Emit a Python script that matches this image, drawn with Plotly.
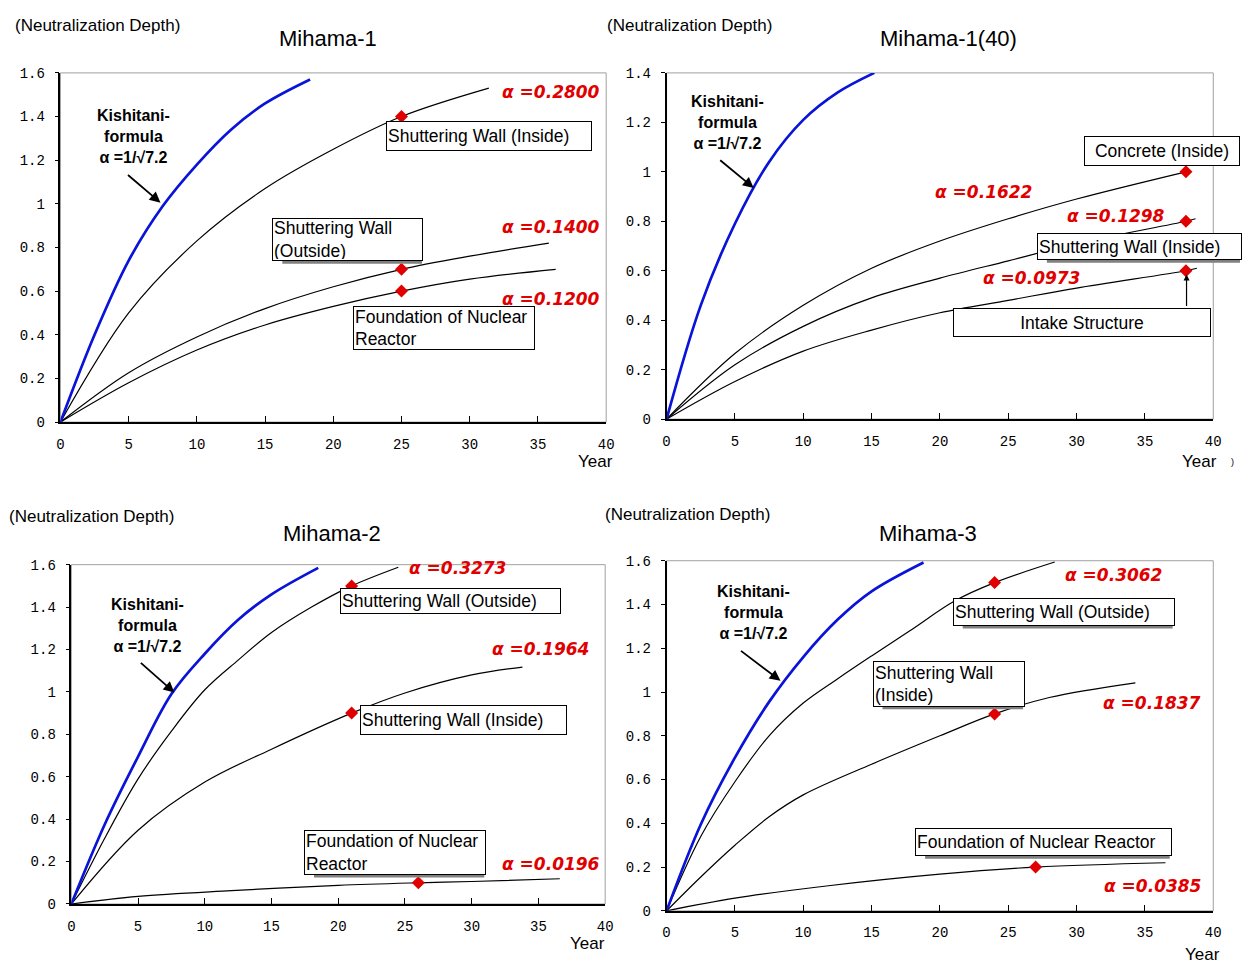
import plotly.graph_objects as go

PAGE_W, PAGE_H = 1250, 972
OFF = 0
W, H = PAGE_W - 2 * OFF, PAGE_H - 2 * OFF

# ---------------- DATA ----------------
panel_titles = ["Mihama-1", "Mihama-1(40)", "Mihama-2", "Mihama-3"]
y_max = [1.6, 1.4, 1.6, 1.6]
x_ticks = [0, 5, 10, 15, 20, 25, 30, 35, 40]
y_ticks_16 = [0, 0.2, 0.4, 0.6, 0.8, 1.0, 1.2, 1.4, 1.6]
y_ticks_14 = [0, 0.2, 0.4, 0.6, 0.8, 1.0, 1.2, 1.4]

# Mihama-1
m1_kish_t = [0, 2.5, 5, 7.5, 10, 12.5, 15, 18.3]
m1_kish_y = [0, 0.40, 0.74, 0.99, 1.18, 1.34, 1.46, 1.57]
m1_a2800_t = [0, 5, 10, 15, 20, 25, 31.4]
m1_a2800_y = [0, 0.50, 0.83, 1.07, 1.25, 1.40, 1.53]
m1_a1400_t = [0, 5, 10, 15, 20, 25, 30, 35.8]
m1_a1400_y = [0, 0.226, 0.39, 0.52, 0.62, 0.70, 0.76, 0.82]
m1_a1200_t = [0, 5, 10, 15, 20, 25, 30, 36.3]
m1_a1200_y = [0, 0.18, 0.33, 0.445, 0.53, 0.60, 0.655, 0.70]
m1_mark_t = [25, 25, 25]
m1_mark_y = [1.4, 0.7, 0.6]

# Mihama-1(40)
m140_kish_t = [0, 2.5, 5, 7.5, 10, 12.5, 15.2]
m140_kish_y = [0, 0.46, 0.79, 1.04, 1.21, 1.32, 1.40]
m140_a1622_t = [0, 5, 10, 15, 20, 25, 30, 38]
m140_a1622_y = [0, 0.265, 0.46, 0.61, 0.72, 0.81, 0.89, 1.00]
m140_a1298_t = [0, 5, 10, 15, 20, 25, 30, 38, 38.7]
m140_a1298_y = [0, 0.22, 0.375, 0.49, 0.57, 0.64, 0.71, 0.80, 0.81]
m140_a0973_t = [0, 5, 10, 15, 20, 25, 30, 38, 38.8]
m140_a0973_y = [0, 0.152, 0.275, 0.36, 0.43, 0.48, 0.53, 0.60, 0.61]
m140_mark_t = [38, 38, 38]
m140_mark_y = [1.0, 0.8, 0.6]

# Mihama-2
m2_kish_t = [0, 2.5, 5, 7.5, 10, 12.5, 15, 18.5]
m2_kish_y = [0, 0.375, 0.695, 0.99, 1.18, 1.34, 1.46, 1.585]
m2_a3273_t = [0, 2.5, 5, 7.5, 10, 12.5, 15, 18, 21, 24.5]
m2_a3273_y = [0, 0.31, 0.59, 0.815, 1.01, 1.15, 1.28, 1.40, 1.50, 1.588]
m2_a1964_t = [0, 5, 10, 15, 21, 25, 30, 33.8]
m2_a1964_y = [0, 0.348, 0.575, 0.73, 0.90, 0.995, 1.08, 1.117]
m2_a0196_t = [0, 5, 12, 20, 26, 30, 36.6]
m2_a0196_y = [0, 0.036, 0.063, 0.088, 0.10, 0.106, 0.119]
m2_mark_t = [21, 21, 26]
m2_mark_y = [1.5, 0.9, 0.1]

# Mihama-3
m3_kish_t = [0, 2.5, 5, 7.5, 10, 12.5, 15, 18.8]
m3_kish_y = [0, 0.395, 0.70, 0.955, 1.16, 1.33, 1.46, 1.592]
m3_a3062_t = [0, 2.5, 5, 7.5, 10, 12.5, 15, 17.8, 21.1, 24, 28.4]
m3_a3062_y = [0, 0.34, 0.59, 0.80, 0.95, 1.06, 1.165, 1.28, 1.417, 1.50, 1.594]
m3_a1837_t = [0, 2.5, 5, 7.5, 10, 15, 20, 24, 28, 34.3]
m3_a1837_y = [0, 0.155, 0.30, 0.43, 0.53, 0.67, 0.80, 0.90, 0.975, 1.042]
m3_a0385_t = [0, 5, 12, 20, 27, 36.5]
m3_a0385_y = [0, 0.058, 0.116, 0.168, 0.20, 0.22]
m3_mark_t = [24, 24, 27]
m3_mark_y = [1.5, 0.9, 0.2]

alpha_labels_m1 = ["α =0.2800", "α =0.1400", "α =0.1200"]
alpha_labels_m140 = ["α =0.1622", "α =0.1298", "α =0.0973"]
alpha_labels_m2 = ["α =0.3273", "α =0.1964", "α =0.0196"]
alpha_labels_m3 = ["α =0.3062", "α =0.1837", "α =0.0385"]

box_labels_m1 = ["Shuttering Wall (Inside)", "Shuttering Wall<br>(Outside)", "Foundation of Nuclear<br>Reactor"]
box_labels_m140 = ["Concrete (Inside)", "Shuttering Wall (Inside)", "Intake Structure"]
box_labels_m2 = ["Shuttering Wall (Outside)", "Shuttering Wall (Inside)", "Foundation of Nuclear<br>Reactor"]
box_labels_m3 = ["Shuttering Wall (Outside)", "Shuttering Wall<br>(Inside)", "Foundation of Nuclear Reactor"]

kish_label = "<b>Kishitani-<br>formula<br>α =1/√7.2</b>"
y_axis_label = "(Neutralization Depth)"
x_axis_label = "Year"

# ---------------- STYLE / LAYOUT ----------------
BLUE = "#0a14d8"
RED = "#e00000"
FONT = "Liberation Sans, Arial, sans-serif"
TICKFONT = dict(size=14, family="Liberation Mono, DejaVu Sans Mono, monospace", color="black")

# plot-area boxes in page pixels: (left, top, right, bottom)
areas = [(57, 67, 608, 422), (669, 67, 1221, 419), (68, 567, 607, 912), (669, 563, 1221, 919)]

fig = go.Figure()

panels = [
    dict(kish=(m1_kish_t, m1_kish_y),
         curves=[(m1_a2800_t, m1_a2800_y), (m1_a1400_t, m1_a1400_y), (m1_a1200_t, m1_a1200_y)],
         marks=(m1_mark_t, m1_mark_y)),
    dict(kish=(m140_kish_t, m140_kish_y),
         curves=[(m140_a1622_t, m140_a1622_y), (m140_a1298_t, m140_a1298_y), (m140_a0973_t, m140_a0973_y)],
         marks=(m140_mark_t, m140_mark_y)),
    dict(kish=(m2_kish_t, m2_kish_y),
         curves=[(m2_a3273_t, m2_a3273_y), (m2_a1964_t, m2_a1964_y), (m2_a0196_t, m2_a0196_y)],
         marks=(m2_mark_t, m2_mark_y)),
    dict(kish=(m3_kish_t, m3_kish_y),
         curves=[(m3_a3062_t, m3_a3062_y), (m3_a1837_t, m3_a1837_y), (m3_a0385_t, m3_a0385_y)],
         marks=(m3_mark_t, m3_mark_y)),
]


def px(x, y):
    """page pixel -> paper fraction"""
    return (x - OFF) / W, 1 - (y - OFF) / H


layout = dict(width=W, height=H, margin=dict(l=0, r=0, t=0, b=0),
              plot_bgcolor="white", paper_bgcolor="white", showlegend=False,
              font=dict(family=FONT, color="black"))
shapes = []
annotations = []

for i, p in enumerate(panels):
    n = "" if i == 0 else str(i + 1)
    xa, ya = "x" + n, "y" + n
    l, t, r, b = areas[i]
    for (tx, ty) in p["curves"]:
        fig.add_trace(go.Scatter(x=tx, y=ty, mode="lines", xaxis=xa, yaxis=ya,
                                 line=dict(color="black", width=1.2, shape="spline", smoothing=1.0),
                                 hoverinfo="skip"))
    kt, ky = p["kish"]
    fig.add_trace(go.Scatter(x=kt, y=ky, mode="lines", xaxis=xa, yaxis=ya,
                             line=dict(color=BLUE, width=2.7, shape="spline", smoothing=1.0),
                             hoverinfo="skip"))
    mt, my = p["marks"]
    fig.add_trace(go.Scatter(x=mt, y=my, mode="markers", xaxis=xa, yaxis=ya,
                             marker=dict(symbol="diamond", size=10, color=RED),
                             hoverinfo="skip"))
    x0, y1 = px(l, t)
    x1, y0 = px(r, b)
    yt = y_ticks_14 if y_max[i] == 1.4 else y_ticks_16
    layout["xaxis" + n] = dict(domain=[x0, x1], range=[0, 40], anchor=ya,
                               tickvals=x_ticks, ticktext=[str(v) for v in x_ticks],
                               ticks="inside", ticklen=6, tickcolor="black",
                               showline=True, linecolor="black", linewidth=1.5,
                               showgrid=False, zeroline=False, ticklabelstandoff=8,
                               tickfont=TICKFONT, fixedrange=True)
    layout["yaxis" + n] = dict(domain=[y0, y1], range=[0, y_max[i]], anchor=xa,
                               tickvals=yt, ticktext=[("%g" % v) for v in yt],
                               ticks="outside", ticklen=4, tickcolor="black",
                               showline=True, linecolor="black", linewidth=1.5,
                               showgrid=False, zeroline=False, ticklabelstandoff=7,
                               tickfont=TICKFONT, fixedrange=True)
    # light-grey frame on top and right
    shapes.append(dict(type="rect", xref="paper", yref="paper", x0=x0, x1=x1, y0=y0, y1=y1,
                       line=dict(color="#a0a0a0", width=1), layer="below"))

# titles, axis labels
title_pos = [(327, 32), (954, 32), (331, 535), (933, 535)]
ylab_pos = [(9, 19), (607, 19), (3, 518), (605, 516)]
year_pos = [(597, 462), (1207, 462), (589, 952), (1210, 963)]
for i in range(4):
    x, y = px(*title_pos[i])
    annotations.append(dict(text=panel_titles[i], x=x, y=y, xref="paper", yref="paper",
                            showarrow=False, font=dict(size=22), xanchor="center", yanchor="middle"))
    x, y = px(*ylab_pos[i])
    annotations.append(dict(text=y_axis_label, x=x, y=y, xref="paper", yref="paper",
                            showarrow=False, font=dict(size=17), xanchor="left", yanchor="middle"))
    x, y = px(*year_pos[i])
    annotations.append(dict(text=x_axis_label, x=x, y=y, xref="paper", yref="paper",
                            showarrow=False, font=dict(size=17), xanchor="center", yanchor="middle"))
x, y = px(1240, 463)
annotations.append(dict(text=")", x=x, y=y, xref="paper", yref="paper", showarrow=False,
                        font=dict(size=9), xanchor="center", yanchor="middle"))

# Kishitani labels and arrows
kish_pos = [(131, 132), (731, 117), (145, 629), (757, 616)]
kish_arrow = [((124, 170), (158, 199)), ((722, 155), (757, 184)),
              ((137, 666), (172, 697)), ((743, 654), (784, 685))]
for i in range(4):
    x, y = px(*kish_pos[i])
    annotations.append(dict(text=kish_label, x=x, y=y, xref="paper", yref="paper",
                            showarrow=False, font=dict(size=16), xanchor="center",
                            yanchor="middle", align="center"))
    (sx, sy), (ex, ey) = kish_arrow[i]
    hx, hy = px(ex, ey)
    annotations.append(dict(text="", x=hx, y=hy, xref="paper", yref="paper", showarrow=True,
                            ax=sx - ex, ay=sy - ey, arrowhead=2, arrowsize=1.2, arrowwidth=1.8,
                            arrowcolor="black"))

# alpha labels (right edge, vertical centre)
alpha_pos = [
    [(604, 86), (604, 224), (604, 297)],
    [(1040, 188), (1174, 213), (1088, 276)],
    [(509, 570), (593, 653), (604, 871)],
    [(1171, 578), (1211, 708), (1211, 894)],
]
alpha_sets = [alpha_labels_m1, alpha_labels_m140, alpha_labels_m2, alpha_labels_m3]
for i in range(4):
    for lab, (ax_, ay_) in zip(alpha_sets[i], alpha_pos[i]):
        x, y = px(ax_, ay_)
        annotations.append(dict(text="<b><i>" + lab + "</i></b>", x=x, y=y, xref="paper", yref="paper",
                                showarrow=False,
                                font=dict(size=17, color=RED, family="DejaVu Sans, sans-serif"),
                                xanchor="right", yanchor="middle"))

# boxed labels: (left, top, right, bottom) in page pixels
box_pos = [
    [(386, 116, 592, 146), (271, 215, 422, 258), (352, 304, 534, 348)],
    [(1090, 131, 1246, 161), (1043, 230, 1248, 257), (958, 306, 1216, 335)],
    [(339, 591, 560, 617), (359, 710, 566, 740), (303, 837, 485, 882)],
    [(958, 601, 1180, 629), (877, 665, 1029, 711), (920, 835, 1177, 863)],
]
box_align = [
    ["left", "left", "left"],
    ["center", "left", "center"],
    ["left", "left", "left"],
    ["left", "left", "left"],
]
box_sets = [box_labels_m1, box_labels_m140, box_labels_m2, box_labels_m3]
shadow_boxes = {(0, 1), (2, 2), (3, 0), (3, 1), (3, 2), (1, 1)}
for i in range(4):
    for j, (lab, (bl, bt, br, bb)) in enumerate(zip(box_sets[i], box_pos[i])):
        if (i, j) in shadow_boxes:
            sx0, sy1 = px(bl + 10, bb)
            sx1, sy0 = px(br, bb + 3)
            shapes.append(dict(type="rect", xref="paper", yref="paper", x0=sx0, x1=sx1, y0=sy0, y1=sy1,
                               fillcolor="#808080", line=dict(width=0)))
        x, y = px(bl, bt)
        annotations.append(dict(text=lab, x=x, y=y, xref="paper", yref="paper", showarrow=False,
                                xanchor="left", yanchor="top", align=box_align[i][j],
                                width=br - bl - 4, height=bb - bt - 4, valign="middle",
                                bgcolor="white", bordercolor="black", borderwidth=1, borderpad=1,
                                font=dict(size=17.5)))

# arrow from "Intake Structure" box up to marker
hx, hy = px(1194, 272)
annotations.append(dict(text="", x=hx, y=hy, xref="paper", yref="paper", showarrow=True,
                        ax=0, ay=33, arrowhead=2, arrowsize=1, arrowwidth=1.2, arrowcolor="black"))

layout["shapes"] = shapes
layout["annotations"] = annotations
fig.update_layout(**layout)
fig.write_html(
    "out.html",
    config={"displayModeBar": False},
    post_script=("var d=document.getElementById('{plot_id}');"
                 "d.style.position='fixed';d.style.left='0px';d.style.top='0px';"
                 "document.body.style.margin='0';document.documentElement.style.overflow='hidden';"),
)
